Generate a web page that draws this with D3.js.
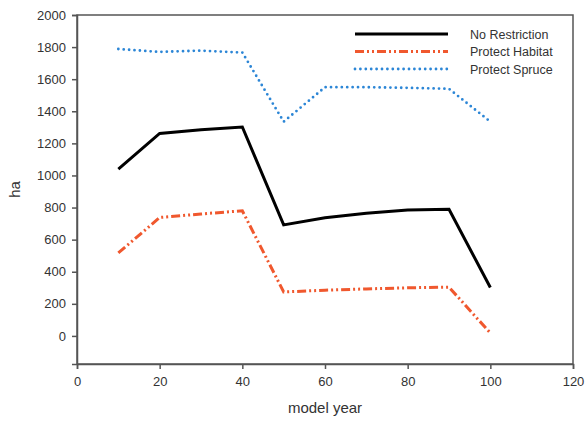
<!DOCTYPE html>
<html>
<head>
<meta charset="utf-8">
<script src="https://cdn.jsdelivr.net/npm/d3@7"></script>
<style>
  body { margin: 0; background: #fff; }
  text { font-family: "Liberation Sans", Arial, sans-serif; fill: #333; }
</style>
</head>
<body>
<div id="chart"></div>
<script>
// data
var years = [10, 20, 30, 40, 50, 60, 70, 80, 90, 100];
var noRestriction = [1040, 1262, 1285, 1302, 692, 737, 764, 785, 789, 302];
var protectHabitat = [517, 738, 760, 780, 274, 285, 293, 300, 304, 18];
var protectSpruce = [1788, 1770, 1778, 1766, 1335, 1550, 1550, 1546, 1540, 1335];
var xTicks = [0, 20, 40, 60, 80, 100, 120];
var yTicks = [0, 200, 400, 600, 800, 1000, 1200, 1400, 1600, 1800, 2000];
var seriesNames = ["No Restriction", "Protect Habitat", "Protect Spruce"];

var margin = { top: 15, right: 12, bottom: 57, left: 77 },
  width = 585 - margin.left - margin.right,
  height = 421 - margin.top - margin.bottom;

var svg = d3
  .select("#chart")
  .append("svg")
  .attr("width", 585)
  .attr("height", 421)
  .append("g")
  .attr("transform", "translate(" + margin.left + "," + margin.top + ")");

var x = d3.scaleLinear().domain([0, 120]).range([0, width]);
var y = d3.scaleLinear().domain([-175, 2000]).range([height, 0]);

// frame
svg
  .append("rect")
  .attr("width", width)
  .attr("height", height)
  .attr("fill", "none")
  .attr("stroke", "#555")
  .attr("stroke-width", 1.5);

// axes
var xAxis = svg
  .append("g")
  .attr("transform", "translate(0," + height + ")")
  .call(d3.axisBottom(x).tickValues(xTicks).tickFormat(d3.format("d")).tickSize(5).tickPadding(8));
var yAxis = svg
  .append("g")
  .call(d3.axisLeft(y).tickValues(yTicks).tickFormat(d3.format("d")).tickSize(5).tickPadding(6));

[xAxis, yAxis].forEach(function (a) {
  a.select(".domain").attr("stroke", "#555").attr("stroke-width", 1.5);
  a.selectAll(".tick line").attr("stroke", "#555").attr("stroke-width", 1.5);
  a.selectAll("text").style("font-size", "13px").attr("fill", "#333");
});

// axis titles
svg
  .append("text")
  .attr("x", width / 2)
  .attr("y", height + 49)
  .attr("text-anchor", "middle")
  .style("font-size", "15px")
  .text("model year");

svg
  .append("text")
  .attr("transform", "translate(-57," + height / 2 + ")rotate(-90)")
  .attr("text-anchor", "middle")
  .style("font-size", "15px")
  .text("ha");

var styles = [
  { color: "#000000", width: 3, dash: null, cap: "butt" },
  { color: "#f0582e", width: 3, dash: "9,3,2,3,2,3", cap: "butt" },
  { color: "#2c86d6", width: 2.8, dash: "0,5.4", cap: "round" }
];
var allSeries = [noRestriction, protectHabitat, protectSpruce];

var line = d3
  .line()
  .x(function (d, i) { return x(years[i]); })
  .y(function (d) { return y(d); });

allSeries.forEach(function (vals, i) {
  svg
    .append("path")
    .datum(vals)
    .attr("d", line)
    .attr("fill", "none")
    .attr("stroke", styles[i].color)
    .attr("stroke-width", styles[i].width)
    .attr("stroke-dasharray", styles[i].dash)
    .attr("stroke-linecap", styles[i].cap)
    .attr("stroke-linejoin", "miter");
});

// legend
var legend = svg.append("g").attr("transform", "translate(278,19)");
seriesNames.forEach(function (name, i) {
  var row = legend.append("g").attr("transform", "translate(0," + i * 17.5 + ")");
  row
    .append("line")
    .attr("x1", 0)
    .attr("x2", 93)
    .attr("stroke", styles[i].color)
    .attr("stroke-width", styles[i].width)
    .attr("stroke-dasharray", styles[i].dash)
    .attr("stroke-linecap", styles[i].cap);
  row
    .append("text")
    .attr("x", 115)
    .attr("y", 4.5)
    .style("font-size", "12.5px")
    .text(name);
});
</script>
</body>
</html>
